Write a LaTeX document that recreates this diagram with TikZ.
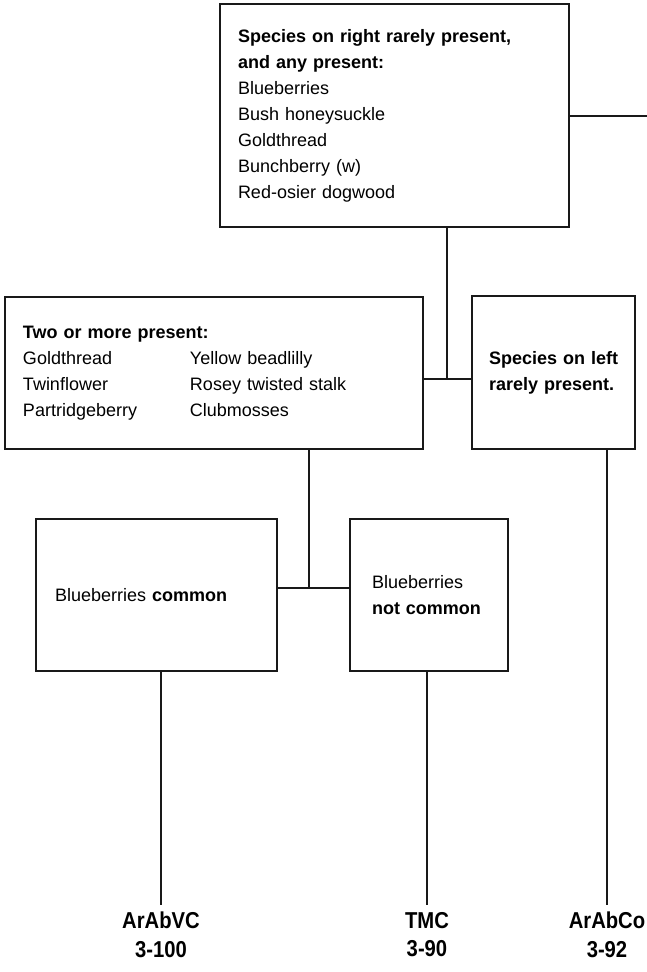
\documentclass[tikz,border=0pt]{standalone}
\usepackage{fontspec}
\setmainfont{Liberation Sans}
% narrow bold label text
\newcommand{\unitlabel}[2]{\scalebox{0.88}[1]{#1}\\[1.5pt]\scalebox{0.88}[1]{#2}}
\begin{document}
\begin{tikzpicture}[x=1pt,y=-1pt,
  box/.style={draw=black!90, line width=1.6pt, rectangle, inner xsep=18pt, inner ysep=0pt,
    align=left, font=\fontsize{18}{26}\selectfont},
  link/.style={draw=black!90, line width=1.6pt},
  unit/.style={align=center, anchor=north, inner sep=0pt,
    font=\fontsize{23}{27}\selectfont\bfseries}]
\useasboundingbox (0,0) rectangle (647,972);

% decision boxes
\node[box, minimum width=349pt, minimum height=223pt, text width=313pt] (top) at (394.5,115.5)
  {\textbf{Species on right rarely present,}\\ \textbf{and any present:}\\ Blueberries\\ Bush honeysuckle\\ Goldthread\\ Bunchberry (w)\\ Red-osier dogwood};
\node[box, minimum width=418pt, minimum height=152pt, text width=382pt] (two) at (214,373)
  {\textbf{Two or more present:}\\
   \makebox[167pt][l]{Goldthread}Yellow beadlilly\\
   \makebox[167pt][l]{Twinflower}Rosey twisted stalk\\
   \makebox[167pt][l]{Partridgeberry}Clubmosses};
\node[box, minimum width=163pt, minimum height=153pt, text width=133pt, inner xsep=15pt] (rare) at (553.5,372.5)
  {\hspace*{2pt}\textbf{Species on left}\\ \hspace*{2pt}\textbf{rarely present.}};
\node[box, minimum width=241pt, minimum height=152pt, text width=203pt, inner xsep=19pt] (common) at (156.5,595)
  {Blueberries \textbf{common}};
\node[box, minimum width=158pt, minimum height=152pt, text width=114pt, inner xsep=22pt] (notcommon) at (429,595)
  {Blueberries\\ \textbf{not common}};

% community types
\node[unit] (vc) at (161,912) {\unitlabel{ArAbVC}{3-100}};
\node[unit] (tmc) at (427,912) {\unitlabel{TMC}{3-90}};
\node[unit] (co) at (607,912) {\unitlabel{ArAbCo}{3-92}};

% branch points and free ends
\coordinate (j1) at (447,379);
\coordinate (j2) at (309,588);
\coordinate (edge) at (647,116);
\coordinate (vcTop) at (161,905);
\coordinate (tmcTop) at (427,905);
\coordinate (coTop) at (607,905);

% connectors
\draw[link] (top.east |- edge) -- (edge);
\draw[link] (j1 |- top.south) -- (j1);
\draw[link] (j1 -| two.east) -- (j1 -| rare.west);
\draw[link] (j2 |- two.south) -- (j2);
\draw[link] (j2 -| common.east) -- (j2 -| notcommon.west);
\draw[link] (vcTop |- common.south) -- (vcTop);
\draw[link] (tmcTop |- notcommon.south) -- (tmcTop);
\draw[link] (coTop |- rare.south) -- (coTop);
\end{tikzpicture}
\end{document}
